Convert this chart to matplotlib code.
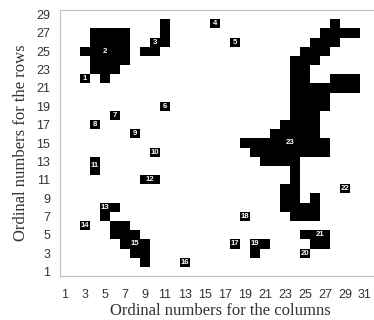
import matplotlib.pyplot as plt
import numpy as np

plt.rcParams["font.family"] = ["Liberation Sans", "DejaVu Sans"]

N_COLS = 32
N_ROWS = 29

# black cells, as runs: (row, first column, last column)
runs = [
    # 1
    (22, 3, 3),
    # 2
    (27, 4, 7), (26, 4, 7), (25, 3, 7), (24, 4, 7), (23, 4, 6), (22, 5, 5),
    # 3
    (28, 11, 11), (27, 11, 11), (26, 10, 11), (25, 9, 10),
    # 4 - 12
    (28, 16, 16), (26, 18, 18), (19, 11, 11), (18, 6, 6), (17, 4, 4),
    (16, 8, 8), (14, 10, 10), (13, 4, 4), (12, 4, 4), (11, 9, 10),
    # 13, 14, 15, 16
    (8, 5, 6), (7, 5, 5), (6, 3, 3),
    (6, 6, 7), (5, 6, 8), (4, 7, 9), (3, 8, 9), (2, 9, 9),
    (2, 13, 13),
    # 17 - 22
    (4, 18, 18), (7, 19, 19), (4, 20, 21), (3, 20, 20), (3, 25, 25),
    (5, 25, 27), (4, 26, 27), (10, 29, 29),
    # 23
    (28, 28, 28), (27, 27, 30), (26, 26, 28), (25, 25, 27), (24, 24, 26),
    (23, 24, 25), (22, 24, 25), (22, 28, 30), (21, 24, 30), (20, 24, 27),
    (19, 24, 27), (18, 24, 26), (17, 23, 26), (16, 22, 26), (15, 19, 27),
    (14, 20, 27), (13, 21, 24), (12, 24, 24), (11, 24, 24), (10, 23, 24),
    (9, 23, 24), (9, 26, 26), (8, 23, 26), (7, 24, 26),
]

label_text = [str(i) for i in range(1, 24)]
label_x = [3, 5, 10, 16, 18, 11, 6, 4, 8, 10, 4, 9.5, 5, 3, 8, 13, 18, 19, 20, 25, 26.5, 29, 23.5]
label_y = [22, 25, 26, 28, 26, 19, 18, 17, 16, 14, 12.5, 11, 8, 6, 4, 2, 4, 7, 4, 3, 5, 10, 15]

grid = np.zeros((N_ROWS, N_COLS))
for row, c0, c1 in runs:
    grid[row - 1, c0 - 1:c1] = 1

fig = plt.figure(figsize=(3.74, 3.2), dpi=100)
ax = fig.add_axes([60 / 374, 44 / 320, 320 / 374, 266 / 320])
ax.imshow(grid, cmap="gray_r", vmin=0, vmax=1, origin="lower",
          extent=(0.5, N_COLS + 0.5, 0.5, N_ROWS + 0.5),
          aspect="auto", interpolation="nearest")

for t, x, y in zip(label_text, label_x, label_y):
    ax.text(x, y, t, ha="center", va="center", color="white",
            fontsize=5.6, fontweight="bold")

ax.set_xlim(0.5, N_COLS + 0.5)
ax.set_ylim(0.5, N_ROWS + 0.5)
ax.set_xticks(np.arange(1, 32, 2))
ax.set_yticks(np.arange(1, 30, 2))
ax.tick_params(length=0, labelsize=9, labelcolor="#333333", pad=7)
ax.tick_params(axis="x", pad=9)
for s in ax.spines.values():
    s.set_color("#c0c0c0")
    s.set_linewidth(0.8)

ax.set_xlabel("Ordinal numbers for the columns", family="Liberation Serif",
              fontsize=12, color="#333333", labelpad=2)
ax.set_ylabel("Ordinal numbers for the rows", family="Liberation Serif",
              fontsize=12, color="#333333", labelpad=5)

fig.savefig("out.png", dpi=100)
